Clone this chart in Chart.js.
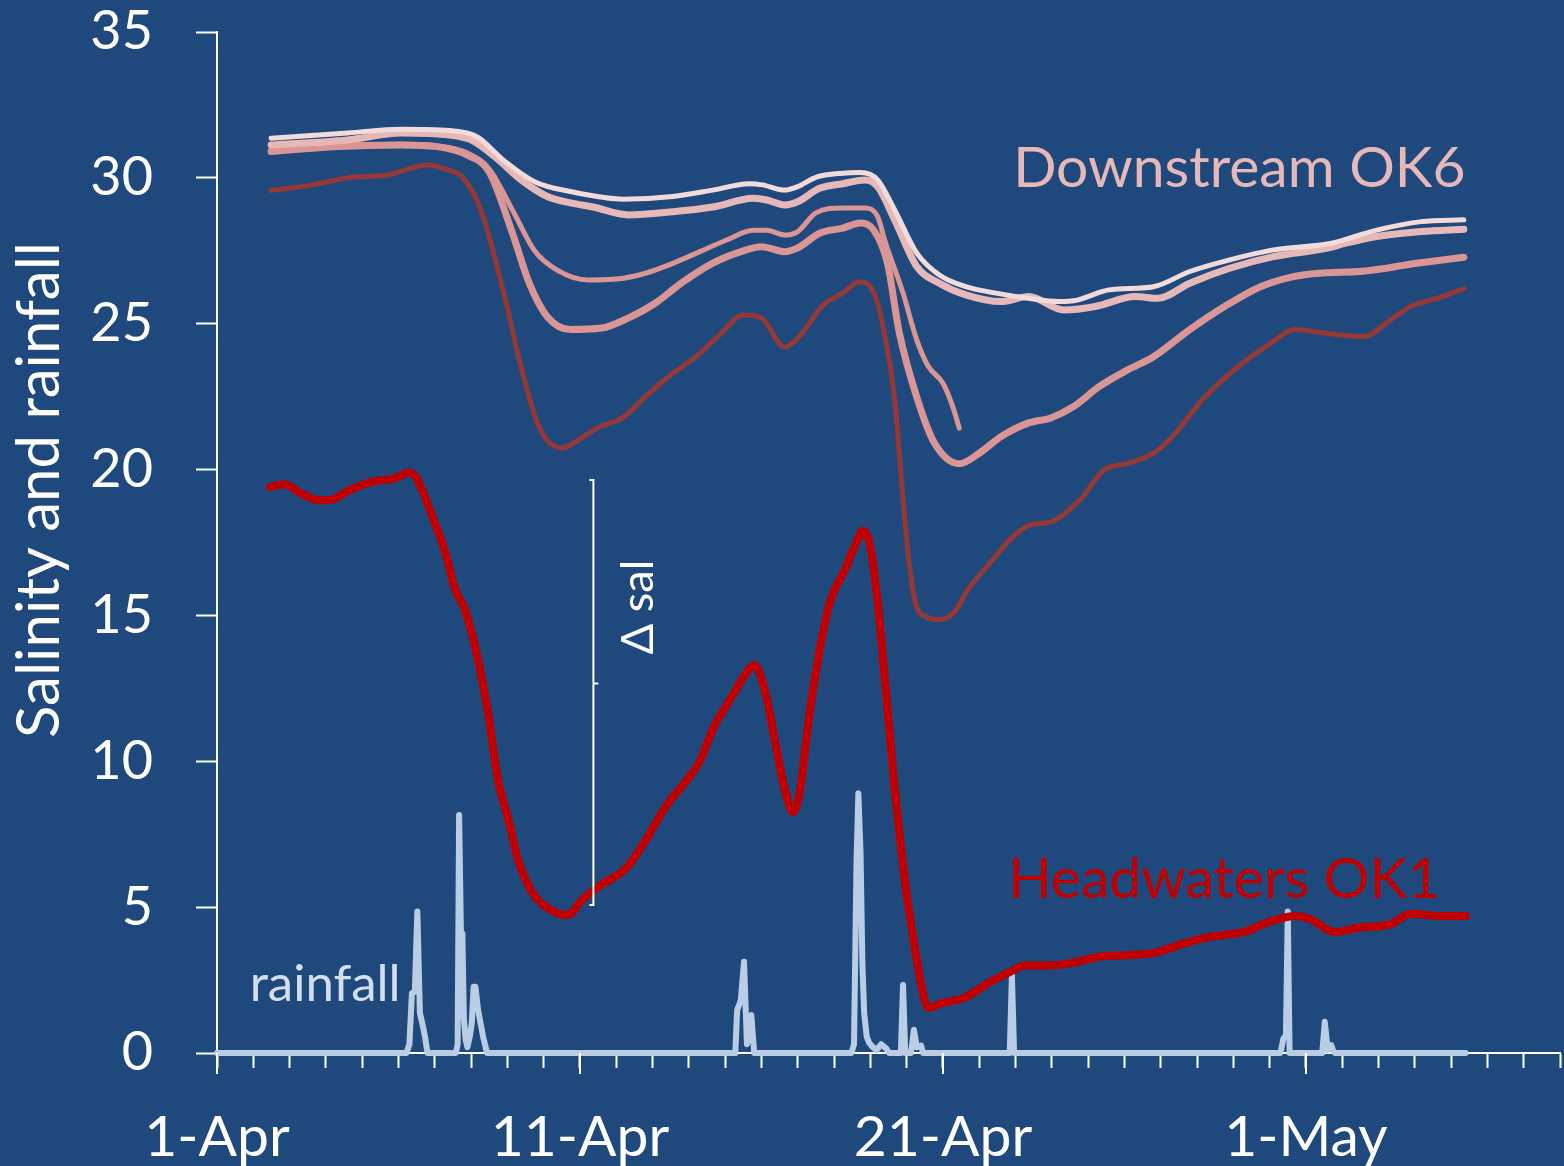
<!DOCTYPE html>
<html>
<head>
<meta charset="utf-8">
<script src="https://cdn.jsdelivr.net/npm/chart.js@4.4.0/dist/chart.umd.min.js"></script>
<style>
html, body { margin: 0; padding: 0; background: #1F497D; }
#wrap { width: 1564px; height: 1166px; }
</style>
</head>
<body>
<div id="wrap"><canvas id="chart" width="1564" height="1166"></canvas></div>
<script>
// days counted from 1-Apr (0 = 1-Apr)
var xTickDays = [0, 10, 20, 30];
var xTickLabels = ['1-Apr', '11-Apr', '21-Apr', '1-May'];

// Headwaters OK1
var ok1Day = [1.46, 1.87, 2.29, 2.78, 3.1, 3.66, 4.35, 4.9, 5.3, 5.5, 5.9, 6.28, 6.56, 6.83, 7.19, 7.5, 7.74, 8.03, 8.3, 8.7, 9.2, 9.65, 10.1, 10.58, 11.27, 11.76, 12.36, 12.95, 13.3, 13.7, 14.13, 14.55, 14.8, 15.1, 15.37, 15.65, 15.87, 16.06, 16.3, 16.6, 16.9, 17.3, 17.58, 17.8, 17.99, 18.2, 18.4, 18.65, 18.95, 19.15, 19.45, 19.6, 19.95, 20.6, 21.3, 21.85, 22.26, 22.95, 23.6, 24.3, 25.15, 25.84, 26.5, 27.2, 27.77, 28.3, 29.0, 29.7, 30.1, 30.8, 31.5, 32.3, 32.9, 33.7, 34.4];
var ok1Sal = [19.4, 19.5, 19.2, 18.96, 18.96, 19.3, 19.6, 19.7, 19.9, 19.7, 18.5, 17.2, 15.9, 15.2, 13.5, 11.4, 9.36, 8.0, 6.6, 5.48, 4.9, 4.73, 5.3, 5.76, 6.33, 7.19, 8.44, 9.36, 10.0, 11.2, 12.1, 12.96, 13.3, 12.4, 10.7, 9.0, 8.26, 9.0, 11.4, 13.8, 15.5, 16.56, 17.4, 17.9, 17.4, 15.5, 12.8, 9.36, 5.93, 4.2, 2.06, 1.54, 1.7, 1.9, 2.43, 2.78, 3.0, 3.0, 3.1, 3.3, 3.36, 3.43, 3.7, 3.94, 4.05, 4.15, 4.5, 4.7, 4.6, 4.15, 4.3, 4.4, 4.77, 4.7, 4.7];

// intermediate sites
var siteADay = [1.49, 2.6, 3.6, 4.7, 5.8, 6.3, 6.78, 7.27, 7.9, 8.38, 8.87, 9.5, 10.1, 10.47, 11.2, 11.8, 12.56, 13.2, 13.9, 14.5, 15.0, 15.64, 16.0, 16.7, 17.24, 17.7, 18.1, 18.35, 18.67, 18.9, 19.05, 19.25, 19.55, 19.9, 20.3, 20.7, 21.3, 21.85, 22.4, 22.95, 23.8, 24.45, 25.07, 25.8, 26.3, 27.15, 28.1, 29.0, 29.7, 30.5, 31.6, 32.3, 32.9, 33.7, 34.35];
var siteASal = [29.57, 29.75, 30.0, 30.1, 30.44, 30.3, 30.0, 28.9, 26.05, 23.5, 21.47, 20.74, 21.13, 21.42, 21.8, 22.5, 23.3, 23.87, 24.68, 25.3, 25.2, 24.2, 24.5, 25.64, 26.05, 26.44, 26.05, 24.9, 22.4, 19.0, 17.0, 15.4, 14.95, 14.85, 15.1, 15.9, 16.8, 17.6, 18.1, 18.2, 19.0, 20.0, 20.2, 20.56, 21.1, 22.4, 23.5, 24.3, 24.8, 24.68, 24.56, 25.1, 25.6, 25.9, 26.2];

var siteBDay = [1.49, 3.2, 5.07, 6.05, 6.9, 7.5, 8.14, 8.6, 9.1, 9.74, 10.6, 11.34, 12.07, 12.8, 13.66, 14.5, 15.0, 15.64, 16.0, 16.6, 17.24, 17.73, 18.1, 18.47, 18.8, 19.3, 19.77, 20.45, 21.0, 21.6, 22.36, 22.97, 23.6, 24.3, 25.06, 25.8, 26.8, 27.77, 28.75, 29.6, 30.35, 31.57, 33.06, 34.35];
var siteBSal = [30.9, 31.07, 31.13, 31.07, 30.78, 30.2, 28.1, 26.4, 25.24, 24.8, 24.85, 25.2, 25.7, 26.4, 27.08, 27.5, 27.64, 27.47, 27.6, 28.1, 28.28, 28.45, 28.2, 27.08, 24.68, 22.4, 20.9, 20.2, 20.56, 21.13, 21.6, 21.77, 22.16, 22.84, 23.4, 23.87, 24.8, 25.6, 26.27, 26.6, 26.73, 26.8, 27.07, 27.28];

var siteCDay = [1.49, 3.2, 5.07, 6.05, 6.9, 7.5, 8.14, 8.75, 9.37, 10.23, 11.2, 11.8, 12.56, 13.3, 14.04, 14.78, 15.15, 15.64, 16.0, 16.5, 17.24, 17.85, 18.2, 18.42, 18.9, 19.28, 19.6, 20.0, 20.27, 20.45];
var siteCSal = [31.0, 31.1, 31.15, 31.1, 30.85, 30.3, 28.9, 27.5, 26.84, 26.5, 26.56, 26.73, 27.07, 27.47, 27.87, 28.2, 28.2, 28.04, 28.16, 28.8, 28.97, 28.97, 28.67, 27.77, 26.05, 24.44, 23.53, 22.96, 22.16, 21.42];

var siteDDay = [1.49, 3.6, 5.07, 6.4, 7.0, 7.65, 8.38, 9.1, 9.74, 10.36, 11.34, 12.56, 13.66, 14.78, 15.15, 15.64, 16.0, 16.6, 17.24, 17.85, 18.2, 18.67, 19.28, 19.9, 20.63, 21.6, 22.36, 23.33, 24.2, 25.3, 25.92, 26.8, 27.9, 29.1, 30.6, 31.1, 31.95, 33.18, 34.35];
var siteDSal = [31.13, 31.3, 31.54, 31.47, 31.3, 30.73, 29.93, 29.36, 29.14, 29.0, 28.73, 28.84, 29.0, 29.3, 29.24, 29.07, 29.18, 29.64, 29.8, 29.93, 29.7, 28.56, 26.96, 26.39, 25.99, 25.76, 25.93, 25.47, 25.59, 25.93, 25.87, 26.39, 26.9, 27.3, 27.59, 27.76, 27.99, 28.16, 28.24];

// Downstream OK6
var ok6Day = [1.49, 3.6, 5.07, 6.4, 7.16, 7.9, 8.75, 9.74, 11.2, 12.56, 13.66, 14.66, 15.03, 15.64, 16.0, 16.5, 17.24, 17.73, 18.2, 18.67, 19.28, 19.9, 20.63, 21.5, 22.36, 23.2, 23.7, 24.57, 25.8, 26.8, 27.9, 29.1, 30.7, 31.95, 33.18, 34.35];
var ok6Sal = [31.36, 31.54, 31.67, 31.62, 31.41, 30.6, 29.87, 29.53, 29.27, 29.36, 29.58, 29.8, 29.76, 29.58, 29.7, 30.02, 30.16, 30.18, 29.93, 28.9, 27.42, 26.67, 26.27, 26.04, 25.87, 25.76, 25.81, 26.16, 26.27, 26.79, 27.19, 27.53, 27.76, 28.21, 28.5, 28.56];

// rainfall
var rainDay = [0, 5.22, 5.3, 5.37, 5.45, 5.52, 5.59, 5.66, 5.73, 5.8, 6.58, 6.63, 6.67, 6.72, 6.76, 6.8, 6.85, 6.9, 6.97, 7.02, 7.07, 7.12, 7.19, 7.26, 7.34, 7.44, 14.28, 14.33, 14.43, 14.52, 14.6, 14.66, 14.72, 14.8, 17.48, 17.55, 17.62, 17.67, 17.73, 17.78, 17.83, 17.9, 17.97, 18.07, 18.17, 18.3, 18.44, 18.52, 18.84, 18.9, 18.96, 19.12, 19.2, 19.28, 19.4, 19.45, 21.84, 21.9, 21.96, 29.3, 29.38, 29.45, 29.5, 29.55, 30.45, 30.52, 30.6, 30.7, 30.74, 30.8, 34.4];
var rainVal = [0, 0, 0.3, 2.05, 2.1, 4.85, 1.37, 1.0, 0.56, 0, 0, 0.3, 8.16, 4.1, 4.1, 1.2, 0.45, 0.2, 0.6, 1.03, 2.27, 2.27, 1.5, 1.03, 0.51, 0, 0, 1.47, 1.8, 3.13, 0.3, 0.8, 1.3, 0, 0, 0.3, 6.6, 8.9, 6.85, 3.07, 1.36, 0.56, 0.34, 0.2, 0.1, 0.3, 0.15, 0, 0, 2.33, 0, 0, 0.8, 0.2, 0.25, 0, 0, 2.67, 0, 0, 0.5, 0.6, 4.85, 0, 0, 1.07, 0.1, 0.27, 0.1, 0, 0];

// Δ sal bracket (day, top, middle, bottom)
var deltaDay = 10.37;
var deltaTop = 19.64, deltaMid = 12.67, deltaBottom = 5.07;

var FONT = 'Lato, "Open Sans", sans-serif';

function toXY(xs, ys) {
    return xs.map(function(x, i) { return { x: x, y: ys[i] }; });
}

function lineSet(label, xs, ys, color, width) {
    return {
        label: label,
        data: toXY(xs, ys),
        borderColor: color,
        borderWidth: width,
        pointRadius: 0,
        fill: false,
        cubicInterpolationMode: 'monotone',
        borderCapStyle: 'round',
        borderJoinStyle: 'round'
    };
}

var background = {
    id: 'background',
    beforeDraw: function(chart) {
        var ctx = chart.ctx;
        ctx.save();
        ctx.fillStyle = '#1F497D';
        ctx.fillRect(0, 0, chart.width, chart.height);
        ctx.restore();
    }
};

var notes = {
    id: 'notes',
    afterDraw: function(chart) {
        var ctx = chart.ctx;
        var x = chart.scales.x, y = chart.scales.y;
        ctx.save();

        // longer ticks under the dated labels
        ctx.strokeStyle = '#ffffff';
        ctx.lineWidth = 2;
        xTickDays.forEach(function(d) {
            var px = Math.round(x.getPixelForValue(d));
            ctx.beginPath();
            ctx.moveTo(px, y.bottom);
            ctx.lineTo(px, y.bottom + 21);
            ctx.stroke();
        });

        // Δ sal bracket
        var bx = x.getPixelForValue(deltaDay);
        var t = y.getPixelForValue(deltaTop), m = y.getPixelForValue(deltaMid), b = y.getPixelForValue(deltaBottom);
        ctx.beginPath();
        ctx.moveTo(bx - 4, t);
        ctx.lineTo(bx, t);
        ctx.lineTo(bx, b);
        ctx.lineTo(bx - 4, b);
        ctx.moveTo(bx, m);
        ctx.lineTo(bx + 5, m);
        ctx.stroke();

        ctx.textBaseline = 'middle';
        ctx.fillStyle = '#ffffff';

        // axis title
        ctx.save();
        ctx.font = '60px ' + FONT;
        ctx.translate(40, 490);
        ctx.rotate(-Math.PI / 2);
        ctx.textAlign = 'center';
        ctx.fillText('Salinity and rainfall', 0, 0);
        ctx.restore();

        ctx.save();
        ctx.font = '45px ' + FONT;
        ctx.translate(x.getPixelForValue(11.6), y.getPixelForValue(15.29));
        ctx.rotate(-Math.PI / 2);
        ctx.textAlign = 'center';
        ctx.fillText('Δ sal', 0, 0);
        ctx.restore();

        ctx.textAlign = 'right';
        ctx.font = '57px ' + FONT;
        ctx.fillStyle = '#E6B9B8';
        ctx.fillText('Downstream OK6', x.getPixelForValue(34.4), y.getPixelForValue(30.3));
        ctx.fillStyle = '#C00000';
        ctx.fillText('Headwaters OK1', x.getPixelForValue(33.7), y.getPixelForValue(5.93));

        ctx.textAlign = 'left';
        ctx.font = '51px ' + FONT;
        ctx.fillStyle = '#D3DFEE';
        ctx.fillText('rainfall', x.getPixelForValue(0.9), y.getPixelForValue(2.33));
        ctx.restore();
    }
};

new Chart(document.getElementById('chart'), {
    type: 'line',
    data: {
        datasets: [
            lineSet('OK6', ok6Day, ok6Sal, '#F2DCDB', 5),
            lineSet('D', siteDDay, siteDSal, '#E6B9B8', 7),
            lineSet('C', siteCDay, siteCSal, '#D99694', 5),
            lineSet('B', siteBDay, siteBSal, '#D99694', 7),
            lineSet('A', siteADay, siteASal, '#953735', 5),
            lineSet('OK1', ok1Day, ok1Sal, '#C00000', 8),
            {
                label: 'rainfall',
                data: toXY(rainDay, rainVal),
                borderColor: '#B9CDE5',
                borderWidth: 6,
                pointRadius: 0,
                tension: 0,
                fill: false,
                clip: false,
                borderCapStyle: 'round',
                borderJoinStyle: 'round'
            }
        ]
    },
    options: {
        responsive: false,
        animation: false,
        layout: { padding: { top: 32, right: 4, left: 0, bottom: 0 } },
        plugins: { legend: { display: false }, tooltip: { enabled: false } },
        scales: {
            x: {
                type: 'linear',
                min: 0,
                max: 37,
                grid: { drawOnChartArea: false, tickLength: 15, tickColor: '#ffffff', tickWidth: 2 },
                border: { color: '#ffffff', width: 2 },
                ticks: {
                    stepSize: 1,
                    autoSkip: false,
                    maxRotation: 0,
                    color: '#ffffff',
                    padding: 35,
                    font: { family: FONT, size: 57 },
                    callback: function(v) {
                        var i = xTickDays.indexOf(v);
                        return i >= 0 ? xTickLabels[i] : '';
                    }
                },
                afterFit: function(s) {
                    s.height = 113;
                    s.paddingLeft = 0;
                    s.paddingRight = 0;
                }
            },
            y: {
                min: 0,
                max: 35,
                grid: { drawOnChartArea: false, tickLength: 21, tickColor: '#ffffff', tickWidth: 2 },
                border: { color: '#ffffff', width: 2 },
                ticks: { stepSize: 5, color: '#ffffff', padding: 43, font: { family: FONT, size: 54 } },
                afterFit: function(s) {
                    s.width = 217;
                    s.paddingTop = 0;
                    s.paddingBottom = 0;
                }
            }
        }
    },
    plugins: [background, notes]
});
</script>
</body>
</html>
